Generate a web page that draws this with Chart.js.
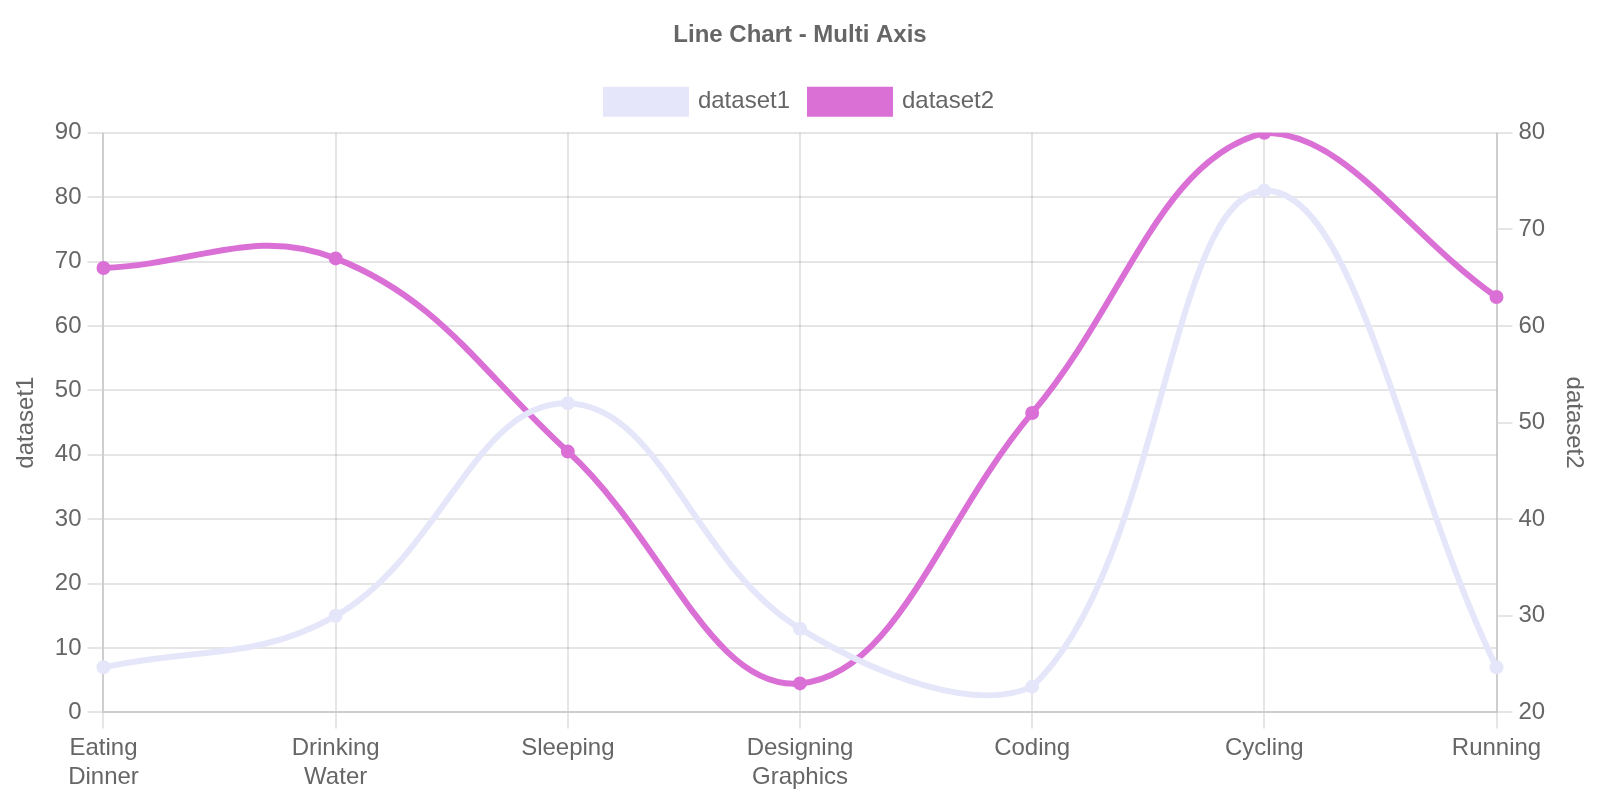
<!DOCTYPE html>
<html>
<head>
<meta charset="utf-8">
<script src="https://cdn.jsdelivr.net/npm/chart.js@4.4.1/dist/chart.umd.min.js"></script>
<style>
  html, body { margin: 0; padding: 0; background: #fff; }
  #wrap { width: 1600px; height: 800px; }
</style>
</head>
<body>
<div id="wrap"><canvas id="c"></canvas></div>
<script>
const categories = [['Eating', 'Dinner'], ['Drinking', 'Water'], 'Sleeping', ['Designing', 'Graphics'], 'Coding', 'Cycling', 'Running'];
const dataset1Values = [7, 15, 48, 13, 4, 81, 7];
const dataset2Values = [66, 67, 47, 23, 51, 80, 63];
const leftTicks = [0, 10, 20, 30, 40, 50, 60, 70, 80, 90];
const rightTicks = [20, 30, 40, 50, 60, 70, 80];

const FONT = "'Liberation Sans', Arial, Helvetica, sans-serif";
Chart.defaults.font.family = FONT;
Chart.defaults.font.size = 24;
Chart.defaults.color = '#666';

const lavender = 'rgb(230, 230, 250)';
const orchid = 'rgb(218, 112, 214)';

// extra space below the legend
const legendGap = {
  id: 'legendGap',
  beforeLayout(chart) {
    const lg = chart.legend;
    if (lg && !lg._gapPatched) {
      const orig = lg.fit;
      lg.fit = function () { orig.call(this); this.height += 9; };
      lg._gapPatched = true;
    }
  }
};

new Chart(document.getElementById('c'), {
  type: 'line',
  plugins: [legendGap],
  data: {
    labels: categories,
    datasets: [
      {
        label: 'dataset1',
        data: dataset1Values,
        borderColor: lavender,
        backgroundColor: lavender,
        borderWidth: 6,
        pointRadius: 6,
        pointBorderWidth: 2,
        tension: 0.4,
        yAxisID: 'y'
      },
      {
        label: 'dataset2',
        data: dataset2Values,
        borderColor: orchid,
        backgroundColor: orchid,
        borderWidth: 6,
        pointRadius: 6,
        pointBorderWidth: 2,
        tension: 0.4,
        yAxisID: 'y1'
      }
    ]
  },
  options: {
    responsive: true,
    maintainAspectRatio: false,
    animation: false,
    layout: { padding: { top: 1, left: 4, right: 4, bottom: 2 } },
    plugins: {
      title: {
        display: true,
        text: 'Line Chart - Multi Axis',
        font: { size: 24, weight: 'bold' },
        padding: 20
      },
      legend: {
        labels: { boxWidth: 80, boxHeight: 24, padding: 20, font: { size: 24 } }
      },
      tooltip: { enabled: false }
    },
    scales: {
      x: {
        grid: { lineWidth: 2, tickLength: 16 },
        border: { width: 2 },
        ticks: { padding: 6, font: { size: 24 } }
      },
      y: {
        type: 'linear',
        position: 'left',
        min: leftTicks[0],
        max: leftTicks[leftTicks.length - 1],
        grid: { lineWidth: 2, tickLength: 16 },
        border: { width: 2 },
        ticks: { stepSize: leftTicks[1] - leftTicks[0], padding: 6, font: { size: 24 } },
        title: { display: true, text: 'dataset1', font: { size: 24 }, padding: 8 }
      },
      y1: {
        type: 'linear',
        position: 'right',
        min: rightTicks[0],
        max: rightTicks[rightTicks.length - 1],
        grid: { drawOnChartArea: false, lineWidth: 2, tickLength: 16 },
        border: { width: 2 },
        ticks: { stepSize: rightTicks[1] - rightTicks[0], padding: 6, font: { size: 24 } },
        title: { display: true, text: 'dataset2', font: { size: 24 }, padding: 8 }
      }
    }
  }
});
</script>
</body>
</html>
